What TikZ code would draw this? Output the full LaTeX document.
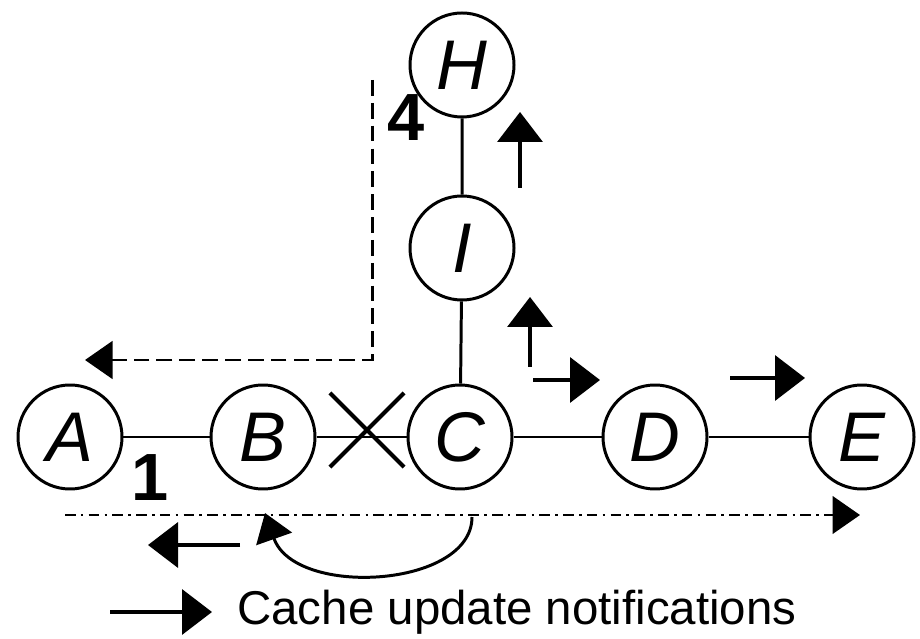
\documentclass[tikz,border=0pt]{standalone}
\usepackage{fontspec}
\setmainfont{Liberation Sans}
\usetikzlibrary{arrows.meta,shapes.misc}

\begin{document}
\begin{tikzpicture}[line width=1.7pt,
    station/.style={circle, draw, minimum size=2.08cm, inner sep=0pt, font=\fontsize{40}{40}\selectfont\itshape},
    notify/.style={-{Triangle[length=0.6cm,width=0.9cm]}, line width=2pt},
    digit/.style={font=\fontsize{38}{38}\selectfont\bfseries}]
      \useasboundingbox (0,0) rectangle (18.4,12.76);
      % stations
      \node[station] (A) at (1.4,4.02) {A};
      \node[station] (B) at (5.26,4.02) {B};
      \node[station] (C) at (9.2,4.02) {C};
      \node[station] (D) at (13.1,4.02) {D};
      \node[station] (E) at (17.24,4.02) {E};
      \node[station] (I) at (9.24,7.8) {I};
      \node[station] (H) at (9.24,11.46) {H};
      \draw (A) -- (B) (B) -- (C) (C) -- (D) (D) -- (E);
      \draw (C) -- (I) (I) -- (H);
      % broken link
      \node[cross out, draw, minimum size=1.4cm, line width=2.4pt] (cut) at (7.34,4.16) {};
      \node[digit] (one) at (3.0,3.2) {1};
      \node[digit] (four) at (8.12,10.4) {4};
      % paths
      \coordinate (top) at (7.44,11.16);
      \coordinate (bend) at (7.44,5.56);
      \coordinate (west) at (1.7,5.56);
      \draw[dash pattern=on 9pt off 4pt, -{Triangle[length=0.55cm,width=0.75cm]}] (top) -- (bend) -- (west);
      \coordinate (low west) at (1.3,2.46);
      \coordinate (low east) at (17.2,2.46);
      \draw[dash pattern=on 6pt off 3pt on 1.5pt off 3pt, -{Triangle[length=0.55cm,width=0.75cm]}] (low west) -- (low east);
      \coordinate (loop start) at (9.44,2.42);
      \coordinate (loop end) at (5.3,2.5);
      \draw[-{Triangle[length=0.55cm,width=0.75cm]}] (loop start) .. controls (9.44,1.0) and (5.9,0.8) .. (loop end);
      % notifications
      \coordinate (n1 tail) at (4.8,1.86);   \coordinate (n1 head) at (2.96,1.86);
      \coordinate (n2 tail) at (10.4,9.0);   \coordinate (n2 head) at (10.4,10.52);
      \coordinate (n3 tail) at (10.6,5.42);  \coordinate (n3 head) at (10.6,6.82);
      \coordinate (n4 tail) at (10.66,5.16); \coordinate (n4 head) at (12.0,5.16);
      \coordinate (n5 tail) at (14.6,5.2);   \coordinate (n5 head) at (16.1,5.2);
      \draw[notify] (n1 tail) -- (n1 head);
      \draw[notify] (n2 tail) -- (n2 head);
      \draw[notify] (n3 tail) -- (n3 head);
      \draw[notify] (n4 tail) -- (n4 head);
      \draw[notify] (n5 tail) -- (n5 head);
      % legend
      \coordinate (key tail) at (2.2,0.52);
      \coordinate (key head) at (4.24,0.52);
      \node[anchor=west, font=\fontsize{27}{27}\selectfont] (key) at (4.6,0.52) {Cache update notifications};
      \draw[notify] (key tail) -- (key head);
\end{tikzpicture}
\end{document}
